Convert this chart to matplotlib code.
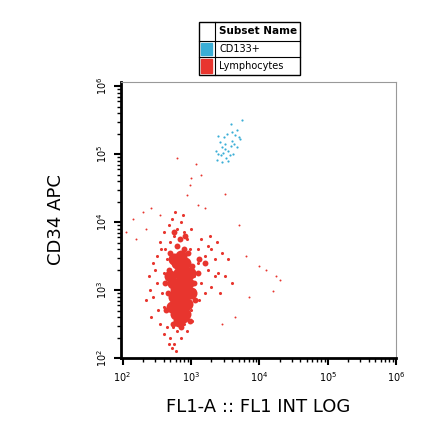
import matplotlib
matplotlib.use("Agg")
import matplotlib.pyplot as plt
from matplotlib.patches import Rectangle
import numpy as np

# log10 coordinates
red_core = [(2.8,2.8),(2.86,2.9),(2.88,3.0),(2.83,3.1),(2.9,3.2),(2.78,3.0),(2.93,2.95),(2.84,2.7),
            (2.88,3.35),(2.76,2.9),(2.96,3.1),(2.82,3.25),(2.88,2.6),(2.8,3.4),(2.86,3.5),(2.74,3.1),
            (2.94,2.8),(2.78,2.65),(2.92,3.4),(2.84,3.0),(2.72,2.75),(2.7,3.2),(3.0,2.95),(2.98,3.25),
            (2.76,3.45),(2.92,2.65),(2.82,2.55)]
red_mid = [(2.66,2.95),(2.68,3.3),(2.64,2.7),(3.04,3.1),(3.06,2.85),(3.02,3.35),(2.7,3.55),(2.9,3.6),
           (2.8,3.65),(2.96,3.55),(2.86,2.45),(2.74,2.5),(2.98,2.55),(3.1,3.25),(2.62,3.1),(2.84,3.75),
           (2.76,3.85),(2.92,3.8),(3.12,3.45),(3.2,3.4)]
red_halo = [(2.62,3.6),(2.7,3.7),(2.75,3.8),(2.8,3.9),(2.68,3.95),(2.85,4.0),(2.9,3.85),(2.72,4.05),
            (2.78,3.65),(2.95,3.75),(2.6,3.85),(2.83,3.55),(2.65,3.45),(2.98,3.6),(3.0,3.9),(2.88,4.1),
            (2.77,4.15),(2.92,3.5),(2.55,3.7),(2.7,3.55),
            (3.05,3.2),(3.1,3.4),(3.2,3.5),(3.3,3.6),(3.35,3.45),(3.25,3.3),(3.15,3.1),(3.4,3.25),
            (3.45,3.55),(3.3,3.05),(3.2,2.95),(3.1,3.6),(3.38,3.7),(3.5,3.2),(3.55,3.45),(3.28,3.8),
            (3.05,3.0),(3.12,2.85),(3.42,2.95),(3.6,3.1),(3.0,2.7),(3.02,2.55),(2.98,3.3),
            (2.45,2.9),(2.5,3.1),(2.4,3.0),(2.52,2.7),(2.48,3.3),(2.55,2.5),(2.42,2.6),(2.5,3.5),
            (2.38,3.2),(2.57,3.6),(2.35,2.85),(2.45,3.4),(2.58,2.95),(2.6,2.75),(2.6,3.25),
            (2.7,2.3),(2.75,2.2),(2.8,2.4),(2.65,2.45),(2.85,2.3),(2.72,2.15),(2.9,2.5),(2.6,2.35),
            (2.78,2.1),(2.95,2.4),(2.68,2.2),(2.74,2.45),(2.82,2.5),(3.25,3.65),(3.15,3.75),(3.35,3.2)]
red_out = [(1.9,3.6),(2.05,3.85),(2.15,4.05),(2.42,4.2),(2.3,4.15),(3.1,4.25),(3.2,4.2),(2.95,4.4),
           (3.0,4.65),(2.98,4.55),(2.8,4.95),(3.07,4.85),(3.15,4.7),(3.5,4.42),(3.7,3.95),(3.8,3.5),
           (4.0,3.35),(4.1,3.3),(4.25,3.2),(4.3,3.15),(4.2,2.98),(3.85,2.9),(3.65,2.6),(3.45,2.5),
           (2.35,3.9),(2.55,4.1),(1.95,3.5),(2.2,3.75)]
cyan = [(3.4,5.0),(3.45,5.1),(3.5,5.15),(3.55,5.05),(3.6,5.2),(3.52,4.95),(3.48,5.25),(3.65,5.28),
        (3.58,5.12),(3.42,5.18),(3.38,4.92),(3.62,5.0),(3.7,5.25),(3.55,4.9),(3.47,5.02),(3.53,5.3),
        (3.68,5.1),(3.44,4.98),(3.6,5.32),(3.5,5.08),(3.57,4.98),(3.4,5.26),(3.72,5.22),(3.63,5.15),
        (3.36,5.05),(3.46,4.88),(3.67,5.35),(3.75,5.5),(3.58,5.45)]

RED = "#e8352e"
CYAN = "#3aaed6"

fig = plt.figure(figsize=(4.4, 4.41), dpi=100)
ax = fig.add_axes([0.275, 0.188, 0.625, 0.626])

def draw(pts, s, c, a=1.0):
    p = np.array(pts)
    ax.scatter(10**p[:, 0], 10**p[:, 1], s=s, c=c, lw=0, alpha=a)

draw(red_core, 75, RED)
draw(red_mid, 18, RED)
draw(red_halo, 5, RED)
draw(red_out, 2, RED)
draw(cyan, 2.5, CYAN)

ax.set_xscale("log"); ax.set_yscale("log")
ax.set_xlim(95, 1e6); ax.set_ylim(100, 10**6.06)
ax.set_xticks([1e2, 1e3, 1e4, 1e5, 1e6])
ax.set_xticklabels([r"$10^{%d}$" % k for k in range(2, 7)], fontsize=7)
ax.set_yticks([1e2, 1e3, 1e4, 1e5, 1e6])
ax.set_yticklabels([r"$10^{%d}$" % k for k in range(2, 7)], fontsize=7, rotation=90, va="center")
for s in ["top", "right"]:
    ax.spines[s].set_color("#999999"); ax.spines[s].set_linewidth(0.8)
for s in ["left", "bottom"]:
    ax.spines[s].set_linewidth(2)
ax.tick_params(which="major", length=5, width=1.5)
ax.tick_params(which="minor", length=3, width=1)
ax.set_xlabel("FL1-A :: FL1 INT LOG", fontsize=13, labelpad=10)
ax.set_ylabel("CD34 APC", fontsize=13, labelpad=22)

# legend table
def fx(px): return px / 440
def fy(py): return 1 - py / 441
x0, x1, x2 = 199, 215, 300
rows = [22, 41, 57, 75]
fig.add_artist(Rectangle((fx(x0), fy(rows[-1])), fx(x2) - fx(x0), fy(rows[0]) - fy(rows[-1]),
                         transform=fig.transFigure, fill=False, lw=1, ec="black"))
fig.add_artist(plt.Line2D([fx(x1), fx(x1)], [fy(rows[0]), fy(rows[-1])], transform=fig.transFigure, color="black", lw=0.8))
for r in rows[1:-1]:
    fig.add_artist(plt.Line2D([fx(x0), fx(x2)], [fy(r), fy(r)], transform=fig.transFigure, color="black", lw=0.8))
fig.text(fx(219), fy(31.5), "Subset Name", fontsize=7.5, fontweight="bold", va="center")
fig.text(fx(219), fy(49), "CD133+", fontsize=7, va="center")
fig.text(fx(219), fy(66), "Lymphocytes", fontsize=7, va="center")
for (r0, r1), c in zip([(rows[1], rows[2]), (rows[2], rows[3])], [CYAN, RED]):
    fig.add_artist(Rectangle((fx(x0 + 2), fy(r1 - 2)), fx(11), fy(r0 + 2) - fy(r1 - 2),
                             transform=fig.transFigure, color=c))

fig.savefig("out.png", dpi=100)
